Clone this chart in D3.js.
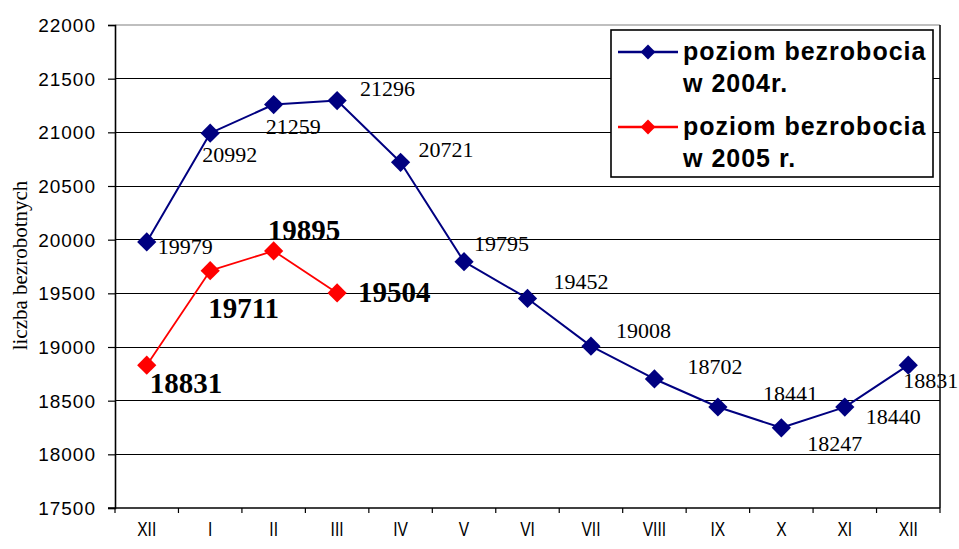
<!DOCTYPE html>
<html>
<head>
<meta charset="utf-8">
<script src="https://cdn.jsdelivr.net/npm/d3@7"></script>
<style>
  html, body { margin: 0; padding: 0; background: #fff; }
  svg { display: block; }
</style>
</head>
<body>
<svg id="chart" width="959" height="549"></svg>
<script>
// ---- data ----
const months = ["XII", "I", "II", "III", "IV", "V", "VI", "VII", "VIII", "IX", "X", "XI", "XII"];
const values2004 = [19979, 20992, 21259, 21296, 20721, 19795, 19452, 19008, 18702, 18441, 18247, 18440, 18831];
const values2005 = [18831, 19711, 19895, 19504];
const yTicks = [17500, 18000, 18500, 19000, 19500, 20000, 20500, 21000, 21500, 22000];
const seriesNames = [["poziom bezrobocia", "w 2004r."], ["poziom bezrobocia", "w 2005 r."]];
const yTitle = "liczba bezrobotnych";

// label placement offsets (pixels, relative to the point)
const labelOffsets2004 = [[11, 12], [-8, 29], [-8, 29], [23, -5], [18, -5], [10, -11], [26, -9], [25, -8], [33, -5], [45, -6], [26, 23], [21, 17], [-5, 23]];
const labelOffsets2005 = [[3, 28], [-2, 47], [-6, -11], [21, 9]];

// ---- layout ----
const M = { left: 115, right: 940, top: 25, bottom: 508 };
const svg = d3.select("#chart");

const x = d3.scaleBand().domain(d3.range(months.length)).range([M.left, M.right]);
const y = d3.scaleLinear().domain([17500, 22000]).range([M.bottom, M.top]);

// gridlines
svg.append("g").selectAll("line").data(yTicks.slice(1, -1)).join("line")
  .attr("x1", M.left).attr("x2", M.right)
  .attr("y1", d => y(d)).attr("y2", d => y(d))
  .attr("stroke", "#000").attr("stroke-width", 1)
  .attr("shape-rendering", "crispEdges");

// plot frame top (gray) and right (black)
svg.append("line").attr("x1", M.left).attr("x2", M.right).attr("y1", M.top).attr("y2", M.top)
  .attr("stroke", "#808080").attr("stroke-width", 1.2);
svg.append("line").attr("x1", M.right).attr("x2", M.right).attr("y1", M.top).attr("y2", M.bottom)
  .attr("stroke", "#000").attr("stroke-width", 1.5);

// y axis
const yAxis = d3.axisLeft(y).tickValues(yTicks).tickSize(7).tickFormat(d3.format("d"));
const gy = svg.append("g").attr("transform", `translate(${M.left},0)`).call(yAxis);
gy.select(".domain").attr("stroke", "#000").attr("stroke-width", 1.6);
gy.selectAll(".tick line").attr("stroke", "#000").attr("stroke-width", 1.2);
gy.selectAll(".tick text")
  .attr("x", -19).attr("dy", "0.35em")
  .attr("font-family", "'Liberation Sans', Arial, sans-serif")
  .attr("font-size", 19).attr("letter-spacing", "1px")
  .attr("fill", "#000");

// x axis labels
const xAxis = d3.axisBottom(x).tickSize(0).tickFormat(i => months[i]);
const gx = svg.append("g").attr("transform", `translate(0,${M.bottom})`).call(xAxis);
gx.select(".domain").remove();
gx.selectAll(".tick text")
  .attr("y", 0).attr("dy", 0)
  .attr("transform", "translate(0,28) scale(0.78,1)")
  .attr("font-family", "'Liberation Sans', Arial, sans-serif")
  .attr("font-size", 20)
  .attr("fill", "#000");
// x axis line and boundary ticks
svg.append("line").attr("x1", M.left - 7).attr("x2", M.right).attr("y1", M.bottom).attr("y2", M.bottom)
  .attr("stroke", "#000").attr("stroke-width", 1.6);
const boundaries = d3.range(months.length + 1);
const edgeX = i => i < months.length ? x(i) : x(months.length - 1) + x.bandwidth();
svg.append("g").selectAll("line").data(boundaries).join("line")
  .attr("x1", edgeX).attr("x2", edgeX)
  .attr("y1", M.bottom).attr("y2", M.bottom + 5)
  .attr("stroke", "#000").attr("stroke-width", 1.2);

// y title
svg.append("text")
  .attr("transform", `translate(27,${(M.top + M.bottom) / 2 - 1}) rotate(-90)`)
  .attr("text-anchor", "middle")
  .attr("font-family", "'Liberation Serif', 'Times New Roman', serif")
  .attr("font-size", 21)
  .attr("fill", "#000")
  .text(yTitle);

const cx = i => x(i) + x.bandwidth() / 2;
const line = d3.line().x((d, i) => cx(i)).y(d => y(d));

function drawSeries(values, color, width) {
  svg.append("path").datum(values)
    .attr("d", line).attr("fill", "none")
    .attr("stroke", color).attr("stroke-width", width).attr("stroke-linejoin", "round");
  svg.append("g").selectAll("path").data(values).join("path")
    .attr("transform", (d, i) => `translate(${cx(i)},${y(d)}) rotate(45)`)
    .attr("d", d3.symbol().type(d3.symbolSquare).size(185))
    .attr("fill", color);
}
drawSeries(values2004, "#000080", 2);
drawSeries(values2005, "#ff0000", 1.8);

// data labels
svg.append("g").selectAll("text").data(values2004).join("text")
  .attr("x", (d, i) => cx(i) + labelOffsets2004[i][0])
  .attr("y", (d, i) => y(d) + labelOffsets2004[i][1])
  .attr("font-family", "'Liberation Serif', 'Times New Roman', serif")
  .attr("font-size", 22).attr("fill", "#000")
  .text(d => d);
svg.append("g").selectAll("text").data(values2005).join("text")
  .attr("x", (d, i) => cx(i) + labelOffsets2005[i][0])
  .attr("y", (d, i) => y(d) + labelOffsets2005[i][1])
  .attr("font-family", "'Liberation Serif', 'Times New Roman', serif")
  .attr("font-size", 29).attr("font-weight", "bold").attr("fill", "#000")
  .text(d => d);

// legend
const lg = svg.append("g");
lg.append("rect").attr("x", 611).attr("y", 30).attr("width", 322).attr("height", 147)
  .attr("fill", "#fff").attr("stroke", "#000").attr("stroke-width", 1.6);
const legendColors = ["#000080", "#ff0000"];
seriesNames.forEach((names, k) => {
  const ly = 52 + k * 75;
  lg.append("line").attr("x1", 618).attr("x2", 678).attr("y1", ly).attr("y2", ly)
    .attr("stroke", legendColors[k]).attr("stroke-width", 2.5);
  lg.append("path").attr("transform", `translate(648,${ly}) rotate(45)`)
    .attr("d", d3.symbol().type(d3.symbolSquare).size(110))
    .attr("fill", legendColors[k]);
  names.forEach((t, j) => {
    lg.append("text").attr("x", 683).attr("y", ly + 8 + j * 32)
      .attr("font-family", "'Liberation Sans', Arial, sans-serif")
      .attr("font-weight", "bold").attr("font-size", 25).attr("letter-spacing", "1px")
      .attr("fill", "#000").text(t);
  });
});
</script>
</body>
</html>
